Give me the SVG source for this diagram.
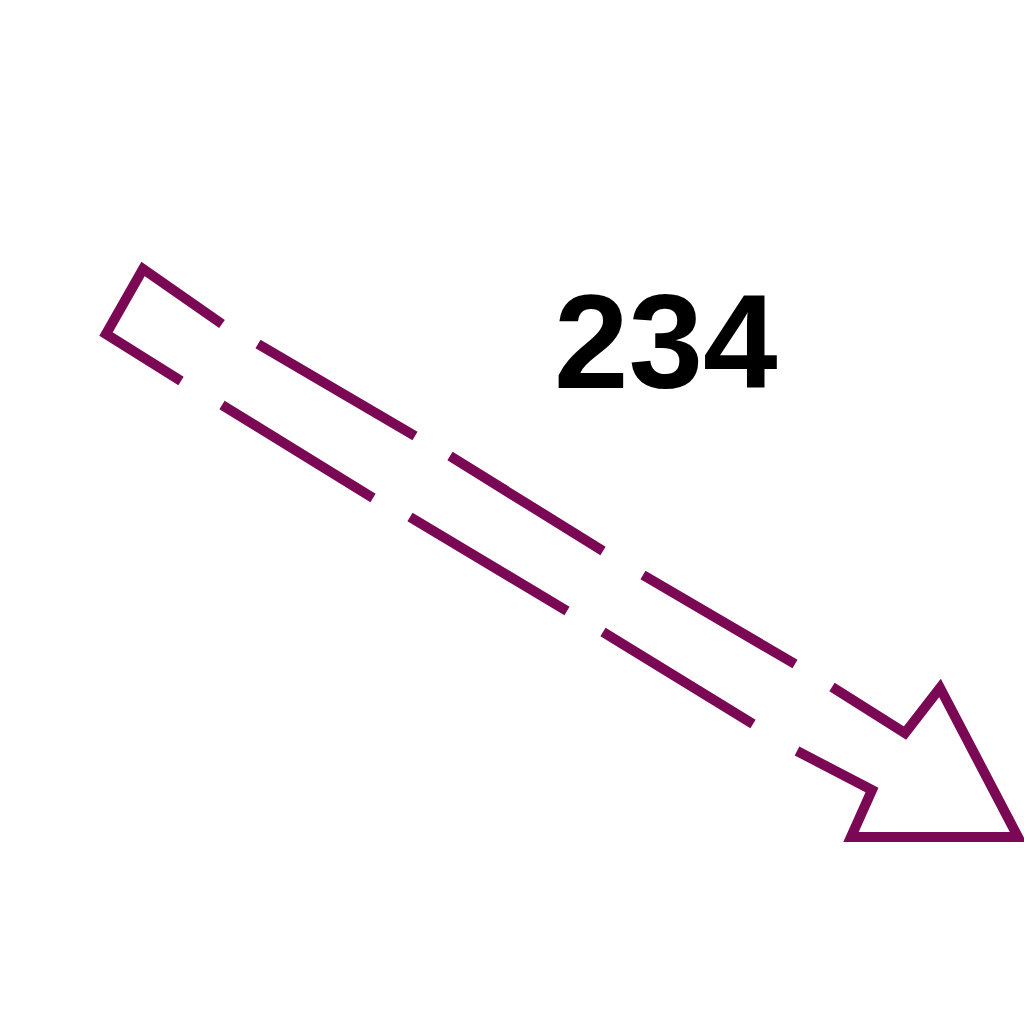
<svg xmlns="http://www.w3.org/2000/svg" width="1024" height="1024" viewBox="0 0 1024 1024">
<style>
.s{fill:none;stroke:#7a0855;stroke-width:10;stroke-linejoin:miter;stroke-linecap:butt}
.t{font-family:"Liberation Sans",Arial,sans-serif;font-weight:bold;font-size:134px;fill:#000}
</style>
<rect width="1024" height="1024" fill="#fff"/>
<g id="connectors">
<path class="s" d="M222,324 L143,269 L106,334 L181,381"/>
<path class="s" d="M258,344 L415,436 M450,456 L603,551 M643,575 L795,664"/>
<path class="s" d="M222,405 L373,498 M410,517 L567,611 M603,632 L753,724"/>
<path class="s" d="M832,687 L905,733 L940,688 L1018,837 L851,837 L872,790 L797,751"/>
</g>
<g id="label"><text class="t" x="554" y="388">234</text></g>
</svg>
